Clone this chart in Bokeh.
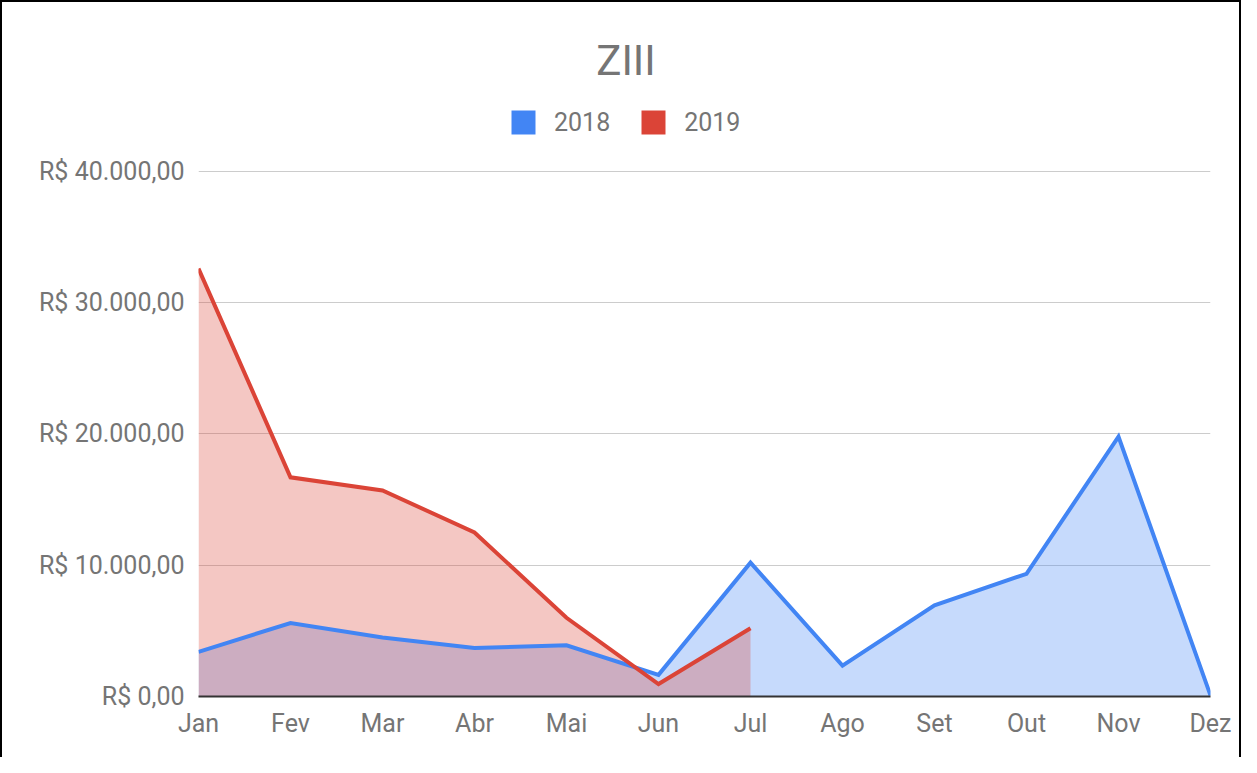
from bokeh.plotting import figure
from bokeh.models import Range1d, FixedTicker, Legend, LegendItem, Label, ColumnDataSource
from bokeh.embed import file_html
from bokeh.resources import INLINE

title = "ZIII"
months = ["Jan", "Fev", "Mar", "Abr", "Mai", "Jun", "Jul", "Ago", "Set", "Out", "Nov", "Dez"]
series_2018 = [3400, 5600, 4500, 3700, 3900, 1650, 10200, 2350, 6950, 9350, 19800, 80]
series_2019 = [32600, 16700, 15700, 12500, 6000, 950, 5200]
y_ticks = [0, 10000, 20000, 30000, 40000]
y_tick_labels = ["R$ 0,00", "R$ 10.000,00", "R$ 20.000,00", "R$ 30.000,00", "R$ 40.000,00"]
legend_labels = ["2018", "2019"]

BLUE = "#4285F4"
RED = "#DB4437"
GRAY = "#757575"
FONT = "Roboto"

# frame spans the full height above the axis so title/legend are not clipped
Y_TOP = 52876

p = figure(width=1241, height=757, output_backend="svg", toolbar_location=None,
           x_range=Range1d(0, len(months) - 1), y_range=Range1d(0, Y_TOP),
           min_border_left=196, min_border_right=33, min_border_top=0, min_border_bottom=63,
           background_fill_color="white", border_fill_color="white",
           styles={"border-left": "2px solid black", "border-top": "2px solid black",
                   "border-right": "2px solid black"})
p.title = None
p.outline_line_color = None

x18 = list(range(len(series_2018)))
x19 = list(range(len(series_2019)))
src18 = ColumnDataSource(dict(x=x18, y=series_2018, z=[0] * len(x18)))
src19 = ColumnDataSource(dict(x=x19, y=series_2019, z=[0] * len(x19)))

p.varea(x="x", y1="z", y2="y", source=src18, fill_color=BLUE, fill_alpha=0.3)
p.varea(x="x", y1="z", y2="y", source=src19, fill_color=RED, fill_alpha=0.3)
p.line(x="x", y="y", source=src18, line_color=BLUE, line_width=4, line_join="miter")
p.line(x="x", y="y", source=src19, line_color=RED, line_width=4, line_join="miter")

# legend swatches (proxy renderers with no visible geometry)
nan = float("nan")
proxy = ColumnDataSource(dict(l=[nan], r=[nan], b=[nan], t=[nan]))
q18 = p.quad(left="l", right="r", bottom="b", top="t", source=proxy, fill_color=BLUE, line_color=None)
q19 = p.quad(left="l", right="r", bottom="b", top="t", source=proxy, fill_color=RED, line_color=None)
legend = Legend(items=[LegendItem(label=legend_labels[0], renderers=[q18]),
                       LegendItem(label=legend_labels[1], renderers=[q19])],
                location=(310, 559), orientation="horizontal",
                glyph_width=30, glyph_height=30, label_standoff=16, spacing=28,
                label_text_font=FONT, label_text_font_size="25px", label_text_color=GRAY,
                border_line_color=None, background_fill_alpha=0, padding=0, margin=0,
                label_height=30)
p.add_layout(legend)

# title, centred on the whole chart
p.add_layout(Label(x=4.646, y=48457, text=title, text_align="center",
                   text_baseline="middle", text_font=FONT, text_font_size="42px",
                   text_color=GRAY))

# axes
p.yaxis.ticker = FixedTicker(ticks=y_ticks)
p.yaxis.major_label_overrides = {t: l for t, l in zip(y_ticks, y_tick_labels)}
p.yaxis.axis_line_color = None
p.yaxis.major_tick_line_color = None
p.yaxis.major_tick_out = 0
p.yaxis.major_tick_in = 0
p.yaxis.minor_tick_line_color = None
p.yaxis.major_label_standoff = 14
p.yaxis.major_label_text_font = FONT
p.yaxis.major_label_text_font_size = "25px"
p.yaxis.major_label_text_color = GRAY

p.xaxis.ticker = FixedTicker(ticks=list(range(len(months))))
p.xaxis.major_label_overrides = {i: m for i, m in enumerate(months)}
p.xaxis.axis_line_color = "#333333"
p.xaxis.axis_line_width = 2
p.xaxis.major_tick_line_color = None
p.xaxis.major_tick_out = 0
p.xaxis.major_tick_in = 0
p.xaxis.minor_tick_line_color = None
p.xaxis.major_label_standoff = 12
p.xaxis.major_label_text_font = FONT
p.xaxis.major_label_text_font_size = "25px"
p.xaxis.major_label_text_color = GRAY

p.xgrid.grid_line_color = None
p.ygrid.grid_line_color = "#cccccc"
p.ygrid.grid_line_width = 1

open("out.html", "w").write(file_html(p, INLINE))
